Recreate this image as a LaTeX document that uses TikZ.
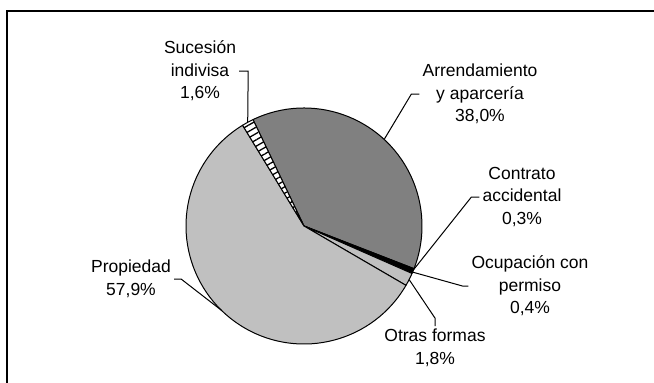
\documentclass[tikz,border=0pt]{standalone}
\usepackage{fontspec}
\setmainfont{Liberation Sans}
\usetikzlibrary{calc,patterns.meta}

\definecolor{arrgray}{RGB}{128,128,128}
\definecolor{progray}{RGB}{192,192,192}

\begin{document}
\begin{tikzpicture}[x=1pt,y=1pt,
        lbl/.style={font=\fontsize{17.5}{22.5}\selectfont, align=center, inner sep=3pt},
        slice/.style={draw=black, line width=1pt, line join=round},
        leader/.style={draw=black, line width=1pt}]
        \useasboundingbox (0,0) rectangle (654,-383);

        % Frame (only the top and left edges are visible)
        \draw[line width=2pt] (654,-11) -- (7,-11) -- (7,-383);

        % Centre and radius of the pie
        \coordinate (c) at (304,-226);
        \pgfmathsetmacro{\radius}{118}

        % Slices, clockwise from the top left
        \draw[slice, fill=arrgray] (c) -- ++(115.6:\radius) arc[start angle=115.6, end angle=-21.2, radius=\radius] -- cycle;
        \draw[slice, fill=black] (c) -- ++(-21.2:\radius) arc[start angle=-21.2, end angle=-22.28, radius=\radius] -- cycle;
        \draw[slice, fill=black] (c) -- ++(-22.28:\radius) arc[start angle=-22.28, end angle=-23.72, radius=\radius] -- cycle;
        \draw[slice, fill=progray] (c) -- ++(-23.72:\radius) arc[start angle=-23.72, end angle=-30.2, radius=\radius] -- cycle;
        \draw[slice, fill=progray] (c) -- ++(-30.2:\radius) arc[start angle=-30.2, end angle=-238.64, radius=\radius] -- cycle;
        \draw[slice, preaction={fill=white}, pattern={Lines[angle=30, distance=5.5pt, line width=1.3pt]}]
            (c) -- ++(-238.64:\radius) arc[start angle=-238.64, end angle=-244.4, radius=\radius] -- cycle;

        % Mid points of the slices on the rim
        \coordinate (pSuc) at ($(c)+(118.5:\radius)$);
        \coordinate (pArr) at ($(c)+(47.2:\radius)$);
        \coordinate (pCon) at ($(c)+(-21.7:\radius)$);
        \coordinate (pOcu) at ($(c)+(-23:\radius)$);
        \coordinate (pOtr) at ($(c)+(-27:\radius)$);
        \coordinate (pPro) at ($(c)+(-134.4:\radius)$);

        % Labels
        \node[lbl] (suc) at (200,-71) {Sucesión\\indivisa\\1,6\%};
        \node[lbl] (arr) at (480,-94) {Arrendamiento\\y aparcería\\38,0\%};
        \node[lbl] (con) at (522,-197) {Contrato\\accidental\\0,3\%};
        \node[lbl] (ocu) at (530,-286) {Ocupación con\\permiso\\0,4\%};
        \node[lbl] (otr) at (435,-348) {Otras formas\\1,8\%};
        \node[lbl] (pro) at (131,-279) {Propiedad\\57,9\%};

        % Leader lines
        \draw[leader] (suc.east) -- ++(9,0) -- (pSuc);
        \draw[leader] (arr.west) -- ++(-8,0) -- (pArr);
        \draw[leader] (con.west) -- ++(-8,0) -- (pCon);
        \draw[leader] (ocu.west) -- ++(-6,0) -- (pOcu);
        \draw[leader] (otr.north) -- ++(0,8) -- (pOtr);
        \draw[leader] (pro.east) -- ++(7,0) -- (pPro);
\end{tikzpicture}
\end{document}
